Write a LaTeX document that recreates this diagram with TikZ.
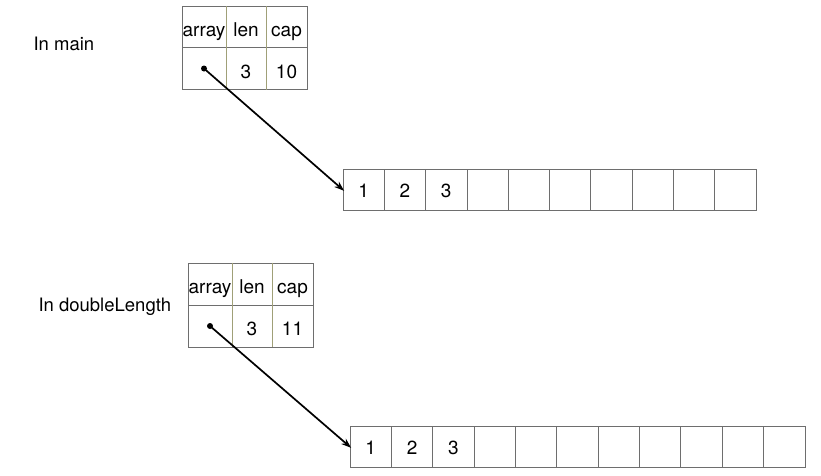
\documentclass[tikz,border=0pt]{standalone}
\usepackage{fontspec}
\setmainfont{TeX Gyre Heros}
\usetikzlibrary{arrows.meta}
\definecolor{cellgray}{RGB}{110,110,110}
\definecolor{divolive}{RGB}{160,160,120}
\begin{document}
\begin{tikzpicture}[x=1pt,y=-1pt,
  cell/.style={draw=cellgray, line width=0.8pt, inner sep=0pt, text height=19pt, text depth=0pt,
    font=\fontsize{19}{22}\selectfont},
  scell/.style={cell, minimum height=41.5pt},
  acell/.style={cell, minimum height=41pt, text height=16pt},
  lbl/.style={anchor=base west, font=\fontsize{18.5}{22}\selectfont},
  dot/.style={circle, fill=black, inner sep=0pt, minimum size=6pt},
  ptr/.style={-{Stealth[length=10pt,width=7pt]}, line width=1.7pt, shorten >=-2pt}]
\useasboundingbox (0,0) rectangle (821,475);
% labels
\node[lbl] (lmain) at (30,50) {In main};
\node[lbl] (ldl) at (35,311) {In doubleLength};
% top struct
\node[scell, minimum width=44pt] (a11) at (204,27) {array};
\node[scell, minimum width=40pt] (a12) at (246,27) {len};
\node[scell, minimum width=41pt] (a13) at (286.5,27) {cap};
\node[scell, minimum width=44pt] (a21) at (204,68.5) {};
\node[scell, minimum width=40pt] (a22) at (246,68.5) {3};
\node[scell, minimum width=41pt] (a23) at (286.5,68.5) {10};
\draw[divolive, line width=0.8pt] (a11.north east) -- (a21.south east);
\draw[divolive, line width=0.8pt] (a12.north east) -- (a22.south east);
% bottom struct
\node[scell, minimum height=42pt, minimum width=44pt] (b11) at (210,284) {array};
\node[scell, minimum height=42pt, minimum width=40pt] (b12) at (252,284) {len};
\node[scell, minimum height=42pt, minimum width=41pt] (b13) at (292.5,284) {cap};
\node[scell, minimum height=42pt, minimum width=44pt] (b21) at (210,326) {};
\node[scell, minimum height=42pt, minimum width=40pt] (b22) at (252,326) {3};
\node[scell, minimum height=42pt, minimum width=41pt] (b23) at (292.5,326) {11};
\draw[divolive, line width=0.8pt] (b11.north east) -- (b21.south east);
\draw[divolive, line width=0.8pt] (b12.north east) -- (b22.south east);
% top array
\foreach \i in {1,...,10}{
  \node[acell, minimum width=41.3pt] (t\i) at ({343+41.3*(\i-0.5)},189.5) {\ifnum\i<4 \i\fi};
}
% bottom array
\foreach \i in {1,...,11}{
  \node[acell, minimum width=41.36pt] (u\i) at ({350+41.36*(\i-0.5)},446.5) {\ifnum\i<4 \i\fi};
}
% pointers
\node[dot] (d1) at (a21.center) {};
\node[dot] (d2) at (b21.center) {};
\draw[ptr] (d1.center) -- (t1.west);
\draw[ptr] (d2.center) -- (u1.west);
\end{tikzpicture}
\end{document}
